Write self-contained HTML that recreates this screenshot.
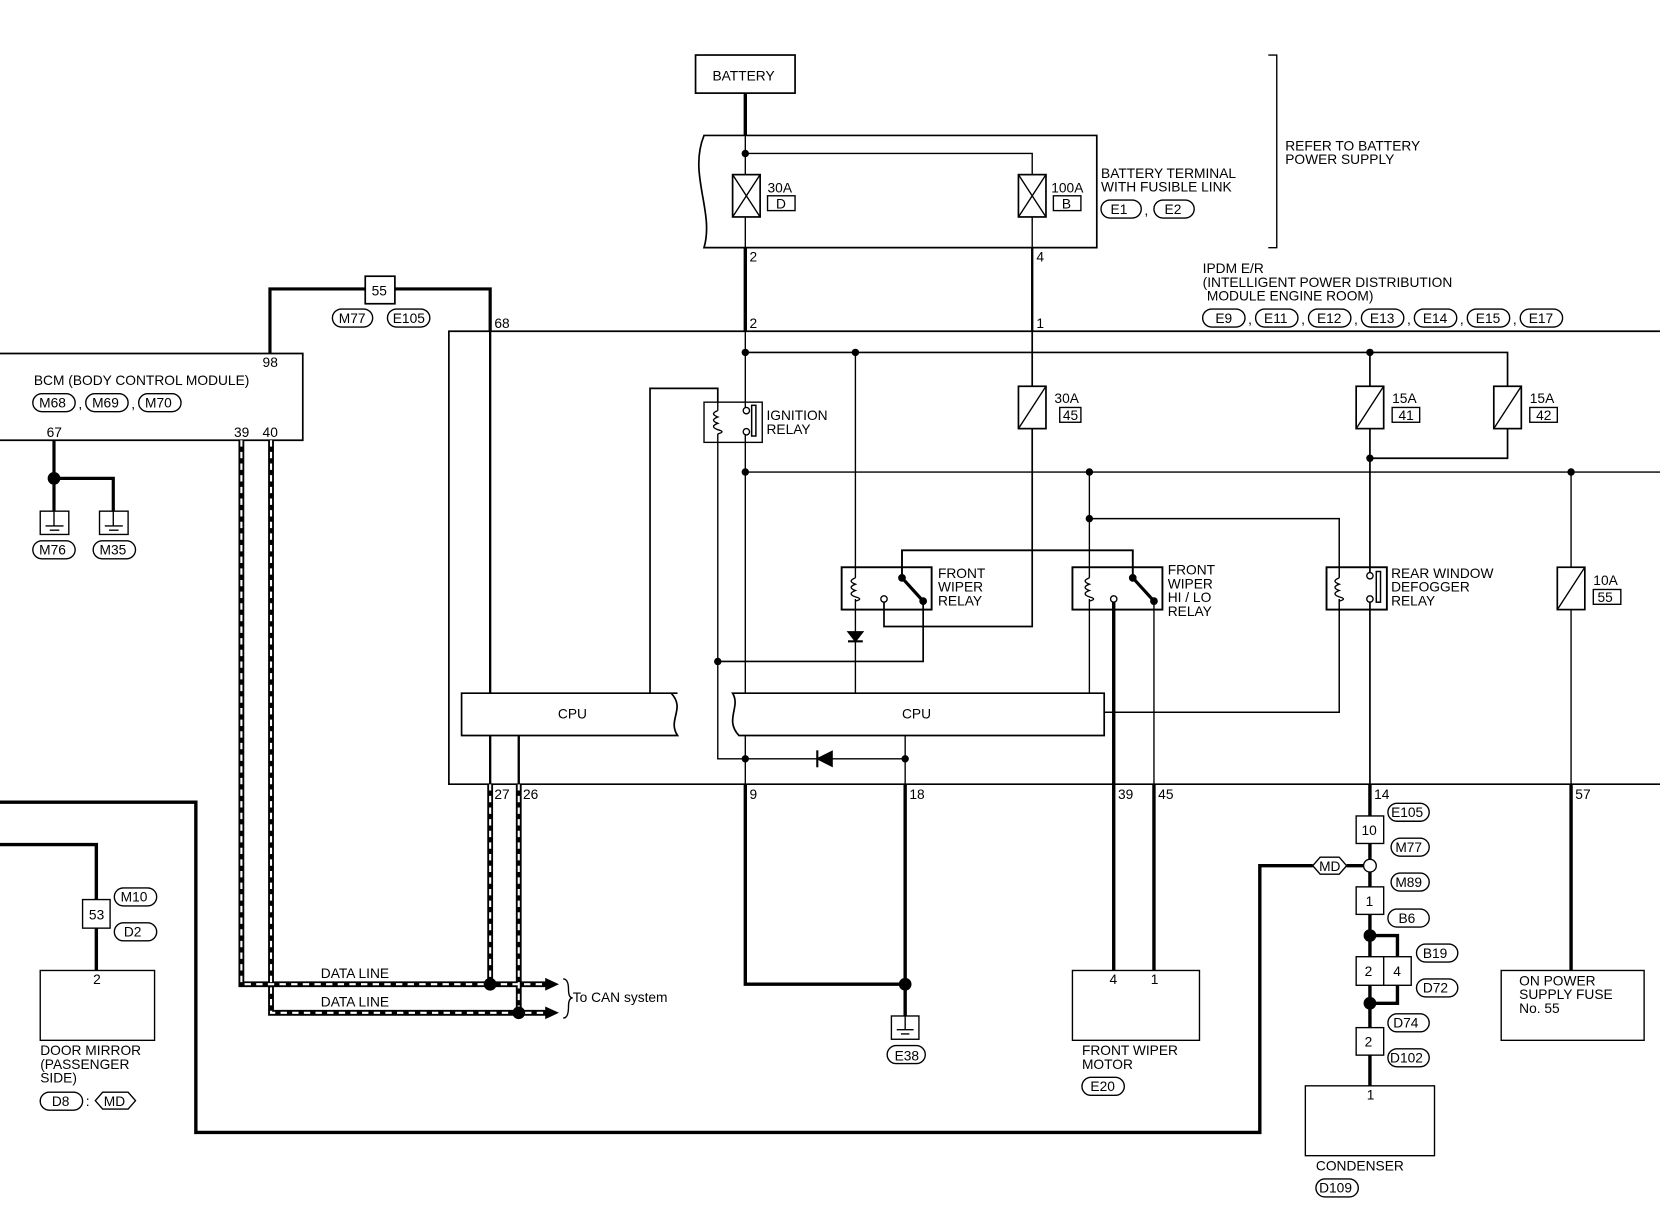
<!DOCTYPE html>
<html><head><meta charset="utf-8"><style>
html,body{margin:0;padding:0;background:#fff;}
svg{display:block;}
text{font-family:"Liberation Sans",sans-serif;font-size:13px;fill:#000;}
</style></head><body>
<svg width="1660" height="1216" viewBox="0 0 1568 1149" preserveAspectRatio="none" xmlns="http://www.w3.org/2000/svg">
<g fill="none" stroke="#000" stroke-width="1.3">
<rect x="657" y="52" width="94" height="36" stroke-width="1.6"/>
<line x1="704" y1="88" x2="704" y2="128" stroke-width="3.2"/>
<path d="M665,128 L1036,128 L1036,234 L665,234 C675,200 650,165 665,128 Z" stroke-width="1.6"/>
<path d="M704,128 V165 M704,145 H975 V165 M704,205 V234 M975,205 V234"/>
<rect x="692" y="165" width="26" height="40" stroke-width="1.6"/><path d="M692,165 L718,205 M718,165 L692,205"/>
<rect x="962" y="165" width="26" height="40" stroke-width="1.6"/><path d="M962,165 L988,205 M988,165 L962,205"/>
<rect x="725" y="185" width="26" height="14"/><rect x="995" y="185" width="26" height="14"/>
<path d="M1198,52 H1206 V234 H1198"/>
<path d="M704,234 V313" stroke-width="3.2"/><path d="M975,234 V313" stroke-width="2.2"/>
<path d="M1568,313 H424 V741 H1568" stroke-width="1.6"/>
<path d="M0,334 H286 V416 H0" stroke-width="1.6"/>
<path d="M255,334 V273 H345 M373,273 H463 V313" stroke-width="3"/>
<rect x="345" y="261" width="28" height="26" stroke-width="1.6"/>
<path d="M463,313 V655" stroke-width="2.2"/>
<path d="M51,416 V483 M51,452 H107 V483" stroke-width="3"/>
<rect x="38" y="483" width="27" height="22"/><rect x="94" y="483" width="27" height="22"/>
<path d="M43,497 H60 M47,501 H56 M99,497 H116 M103,501 H112"/>
<path d="M51,483 V497 M107,483 V497"/>
<path d="M228,416 V930 H520 M256,416 V957 H520 M463,741 V930 M490,741 V957" stroke-width="5.5"/>
<path d="M228,416 V930 H520 M256,416 V957 H520 M463,741 V930 M490,741 V957" stroke="#fff" stroke-width="2" stroke-dasharray="6 5"/>
<path d="M463,695 V741 M490,695 V741" stroke-width="2.2"/>
<path d="M532,925 Q537,925 537,935 Q537,943 541,943 Q537,943 537,951 Q537,962 532,962"/>
<path d="M614,655 V367 H678 V380" stroke-width="1.6"/>
<path d="M640,655 H436 V695 H640 C630,680 648,670 634,655" stroke-width="1.6" fill="#fff"/>
<path d="M1043,655 H692 C700,668 684,680 698,695 H1043 Z" stroke-width="1.6" fill="#fff"/>
<rect x="665" y="380" width="55" height="38"/>
<path d="M678,380 V388 M678,410 V418"/>
<path d="M678,388 q-8,3 0,6 q-8,3 0,6 q-8,3 0,6 q8,2 0,4"/>
<circle cx="705" cy="388" r="3" fill="#fff"/><circle cx="705" cy="408" r="3" fill="#fff"/>
<rect x="710" y="383" width="4" height="29" stroke-width="1.4"/>
<path d="M704,313 V385 M704,411 V655 M704,695 V741"/>
<path d="M704,741 V930 H855 V741 M855,930 V960" stroke-width="3.2"/>
<rect x="842" y="960" width="26" height="22"/><path d="M847,973 H863 M851,977 H859 M855,960 V973"/>
<path d="M678,418 V717 H855 V695"/>
<path d="M855,717 V741"/>
<path d="M786,710 L772,717 L786,724 Z" fill="#000"/><path d="M772,709 V725" stroke-width="2"/>
<path d="M704,333 H1424 V365 M975,313 V365 M975,405 V592 H835 V569" stroke-width="1.6"/>
<path d="M704,446 H1568"/>
<rect x="962" y="365" width="26" height="40" stroke-width="1.6"/><path d="M962,405 L988,365"/>
<rect x="1281" y="365" width="26" height="40" stroke-width="1.6"/><path d="M1281,405 L1307,365"/>
<rect x="1411" y="365" width="26" height="40" stroke-width="1.6"/><path d="M1411,405 L1437,365"/>
<path d="M1424,405 V433 H1294" stroke-width="1.6"/>
<rect x="1001" y="385" width="20" height="14"/><rect x="1315" y="385" width="26" height="14"/><rect x="1445" y="385" width="26" height="14"/>
<rect x="795" y="536" width="85" height="40" stroke-width="1.8"/>
<path d="M808,333 V546 M808,566 V655"/>
<path d="M808,546 q-8,3 0,6 q-8,3 0,6 q-8,3 0,6 q8,2 0,4"/>
<path d="M801,597 H815 L808,606 Z" fill="#000"/><path d="M801,606 H815" stroke-width="2"/>
<circle cx="835" cy="566" r="3" fill="#fff"/>
<path d="M852,546 L872,568" stroke-width="3"/><circle cx="852" cy="546" r="3" fill="#000"/><circle cx="872" cy="568" r="3" fill="#000"/>
<path d="M852,546 V520 H1070 V546" stroke-width="1.8"/>
<path d="M872,568 V625 H678" stroke-width="1.6"/>
<rect x="1013" y="536" width="85" height="40" stroke-width="1.8"/>
<path d="M1029,446 V546 M1029,566 V655"/>
<path d="M1029,546 q-8,3 0,6 q-8,3 0,6 q-8,3 0,6 q8,2 0,4"/>
<circle cx="1052" cy="566" r="3" fill="#fff"/>
<path d="M1070,546 L1090,568" stroke-width="3"/><circle cx="1070" cy="546" r="3" fill="#000"/><circle cx="1090" cy="568" r="3" fill="#000"/>
<path d="M1029,490 H1265 V546 M1265,566 V673 H1043" stroke-width="1.4"/>
<path d="M1052,569 V917" stroke-width="3.2"/>
<path d="M1090,568 V741"/><path d="M1090,741 V917" stroke-width="3.2"/>
<rect x="1253" y="536" width="57" height="40" stroke-width="1.8"/>
<path d="M1265,546 q-8,3 0,6 q-8,3 0,6 q-8,3 0,6 q8,2 0,4"/>
<circle cx="1294" cy="544" r="3" fill="#fff"/><circle cx="1294" cy="566" r="3" fill="#fff"/>
<rect x="1300" y="540" width="4" height="29" stroke-width="1.4"/>
<path d="M1294,333 V365 M1294,405 V541 M1294,569 V741" stroke-width="1.6"/>
<path d="M1294,741 V771 M1294,797 V814 M1294,822 V838 M1294,864 V904 M1294,931 V971 M1294,997 V1026 M1294,884 H1320 V904 M1320,931 V948 H1294" stroke-width="3.2"/>
<rect x="1281" y="771" width="26" height="26" fill="#fff"/>
<circle cx="1294" cy="818" r="6" fill="#fff"/>
<rect x="1281" y="838" width="26" height="26" fill="#fff"/>
<rect x="1281" y="904" width="26" height="27" fill="#fff"/><rect x="1307" y="904" width="26" height="27" fill="#fff"/>
<rect x="1281" y="971" width="26" height="26" fill="#fff"/>
<rect x="1233" y="1026" width="122" height="66"/>
<path d="M1484,446 V536 M1484,576 V741"/><path d="M1484,741 V917" stroke-width="3.2"/>
<rect x="1471" y="536" width="26" height="40" stroke-width="1.6"/><path d="M1471,576 L1497,536"/>
<rect x="1505" y="557" width="26" height="14"/>
<rect x="1418" y="917" width="135" height="66"/>
<rect x="1013" y="917" width="120" height="66"/>
<path d="M0,798 H91 V850 M91,877 V917" stroke-width="3.2"/>
<rect x="78" y="850" width="26" height="27"/>
<rect x="38" y="917" width="108" height="66"/>
<path d="M0,758 H185 V1070 H1190 V818 H1240 M1272,818 H1288" stroke-width="3.2"/>
<path d="M1240,818 L1247,810 H1265 L1272,818 L1265,826 H1247 Z"/>
<path d="M90,1040 L97,1032 H121 L128,1040 L121,1048 H97 Z"/>
<g>
<rect x="1040" y="189" width="38" height="17" rx="8.5"/><rect x="1090" y="189" width="38" height="17" rx="8.5"/>
<rect x="1136" y="292" width="40" height="17" rx="8.5"/><rect x="1186" y="292" width="40" height="17" rx="8.5"/><rect x="1236" y="292" width="40" height="17" rx="8.5"/><rect x="1286" y="292" width="40" height="17" rx="8.5"/><rect x="1336" y="292" width="40" height="17" rx="8.5"/><rect x="1386" y="292" width="40" height="17" rx="8.5"/><rect x="1436" y="292" width="40" height="17" rx="8.5"/>
<rect x="314" y="292" width="38" height="17" rx="8.5"/><rect x="366" y="292" width="40" height="17" rx="8.5"/>
<rect x="31" y="372" width="40" height="17" rx="8.5"/><rect x="81" y="372" width="40" height="17" rx="8.5"/><rect x="131" y="372" width="40" height="17" rx="8.5"/>
<rect x="31" y="511" width="40" height="17" rx="8.5"/><rect x="88" y="511" width="40" height="17" rx="8.5"/>
<rect x="108" y="839" width="40" height="17" rx="8.5"/><rect x="108" y="872" width="40" height="17" rx="8.5"/>
<rect x="38" y="1032" width="40" height="17" rx="8.5"/>
<rect x="838" y="988" width="36" height="17" rx="8.5"/>
<rect x="1022" y="1018" width="40" height="17" rx="8.5"/>
<rect x="1311" y="759" width="39" height="17" rx="8.5"/><rect x="1314" y="792" width="36" height="17" rx="8.5"/><rect x="1314" y="825" width="36" height="17" rx="8.5"/><rect x="1311" y="859" width="39" height="17" rx="8.5"/>
<rect x="1338" y="892" width="39" height="17" rx="8.5"/><rect x="1338" y="925" width="39" height="17" rx="8.5"/>
<rect x="1311" y="958" width="39" height="17" rx="8.5"/><rect x="1311" y="991" width="39" height="17" rx="8.5"/>
<rect x="1243" y="1114" width="40" height="17" rx="8.5"/>
</g>
</g>
<g fill="#000">
<circle cx="704" cy="145" r="3.5"/><circle cx="51" cy="452" r="6"/>
<circle cx="463" cy="930" r="6"/><circle cx="490" cy="957" r="6"/>
<circle cx="704" cy="333" r="3.5"/><circle cx="808" cy="333" r="3.5"/><circle cx="1294" cy="333" r="3.5"/>
<circle cx="704" cy="446" r="3.5"/><circle cx="1029" cy="446" r="3.5"/><circle cx="1484" cy="446" r="3.5"/>
<circle cx="1029" cy="490" r="3.5"/><circle cx="1294" cy="433" r="3.5"/>
<circle cx="678" cy="625" r="3.5"/><circle cx="704" cy="717" r="3.5"/><circle cx="855" cy="717" r="3.5"/>
<circle cx="855" cy="930" r="6"/><circle cx="1294" cy="884" r="6"/><circle cx="1294" cy="948" r="6"/>
<path d="M515,924 L528,930 L515,936 Z M515,951 L528,957 L515,963 Z"/>
</g>
<g>
<text x="673" y="76" font-size="14">BATTERY</text>
<text x="725" y="182">30A</text><text x="733" y="197">D</text>
<text x="993" y="182">100A</text><text x="1003" y="197">B</text>
<text x="1040" y="168">BATTERY TERMINAL</text><text x="1040" y="181">WITH FUSIBLE LINK</text>
<text x="1049" y="202">E1</text><text x="1081" y="203">,</text><text x="1100" y="202">E2</text>
<text x="1214" y="142">REFER TO BATTERY</text><text x="1214" y="155">POWER SUPPLY</text>
<text x="708" y="247" font-size="12">2</text><text x="979" y="247" font-size="12">4</text>
<text x="708" y="310" font-size="12">2</text><text x="979" y="310" font-size="12">1</text>
<text x="467" y="310" font-size="12">68</text>
<text x="1136" y="258">IPDM E/R</text><text x="1136" y="271">(INTELLIGENT POWER DISTRIBUTION</text><text x="1140" y="284">MODULE ENGINE ROOM)</text>
<text x="1148" y="305">E9</text><text x="1194" y="305">E11</text><text x="1244" y="305">E12</text><text x="1294" y="305">E13</text><text x="1344" y="305">E14</text><text x="1394" y="305">E15</text><text x="1444" y="305">E17</text>
<text x="1179" y="306">,</text><text x="1229" y="306">,</text><text x="1279" y="306">,</text><text x="1329" y="306">,</text><text x="1379" y="306">,</text><text x="1429" y="306">,</text>
<text x="351" y="279" font-size="12">55</text>
<text x="320" y="305">M77</text><text x="371" y="305">E105</text>
<text x="248" y="347" font-size="12">98</text>
<text x="32" y="364">BCM (BODY CONTROL MODULE)</text>
<text x="37" y="385">M68</text><text x="87" y="385">M69</text><text x="137" y="385">M70</text><text x="74" y="386">,</text><text x="124" y="386">,</text>
<text x="44" y="413" font-size="12">67</text><text x="221" y="413" font-size="12">39</text><text x="248" y="413" font-size="12">40</text>
<text x="37" y="524">M76</text><text x="94" y="524">M35</text>
<text x="527" y="679">CPU</text><text x="852" y="679">CPU</text>
<text x="724" y="397">IGNITION</text><text x="724" y="410">RELAY</text>
<text x="996" y="381">30A</text><text x="1004" y="397">45</text>
<text x="1315" y="381">15A</text><text x="1321" y="397">41</text>
<text x="1445" y="381">15A</text><text x="1451" y="397">42</text>
<text x="886" y="546">FRONT</text><text x="886" y="559">WIPER</text><text x="886" y="572">RELAY</text>
<text x="1103" y="543">FRONT</text><text x="1103" y="556">WIPER</text><text x="1103" y="569">HI / LO</text><text x="1103" y="582">RELAY</text>
<text x="1314" y="546">REAR WINDOW</text><text x="1314" y="559">DEFOGGER</text><text x="1314" y="572">RELAY</text>
<text x="1505" y="553">10A</text><text x="1509" y="569">55</text>
<text x="467" y="755" font-size="12">27</text><text x="494" y="755" font-size="12">26</text>
<text x="708" y="755" font-size="12">9</text><text x="859" y="755" font-size="12">18</text>
<text x="1056" y="755" font-size="12">39</text><text x="1094" y="755" font-size="12">45</text>
<text x="1298" y="755" font-size="12">14</text><text x="1488" y="755" font-size="12">57</text>
<text x="303" y="924">DATA LINE</text><text x="303" y="951">DATA LINE</text>
<text x="541" y="947" font-size="12">To CAN system</text>
<text x="84" y="869" font-size="12">53</text><text x="114" y="852">M10</text><text x="117" y="885">D2</text>
<text x="88" y="930" font-size="12">2</text>
<text x="38" y="997">DOOR MIRROR</text><text x="38" y="1010">(PASSENGER</text><text x="38" y="1023">SIDE)</text>
<text x="49" y="1045">D8</text><text x="81" y="1045">:</text><text x="98" y="1045">MD</text>
<text x="845" y="1002">E38</text>
<text x="1048" y="930" font-size="12">4</text><text x="1087" y="930" font-size="12">1</text>
<text x="1022" y="997">FRONT WIPER</text><text x="1022" y="1010">MOTOR</text><text x="1030" y="1031">E20</text>
<text x="1246" y="823" font-size="12">MD</text>
<text x="1286" y="789" font-size="12">10</text><text x="1290" y="856" font-size="12">1</text>
<text x="1289" y="922" font-size="12">2</text><text x="1316" y="922" font-size="12">4</text>
<text x="1289" y="989" font-size="12">2</text>
<text x="1314" y="772">E105</text><text x="1318" y="805">M77</text><text x="1318" y="838">M89</text><text x="1321" y="872">B6</text>
<text x="1344" y="905">B19</text><text x="1344" y="938">D72</text><text x="1316" y="971">D74</text><text x="1313" y="1004">D102</text>
<text x="1291" y="1039" font-size="12">1</text>
<text x="1243" y="1106">CONDENSER</text><text x="1246" y="1127">D109</text>
<text x="1435" y="931">ON POWER</text><text x="1435" y="944">SUPPLY FUSE</text><text x="1435" y="957">No. 55</text>
</g>
</svg>
</body></html>
